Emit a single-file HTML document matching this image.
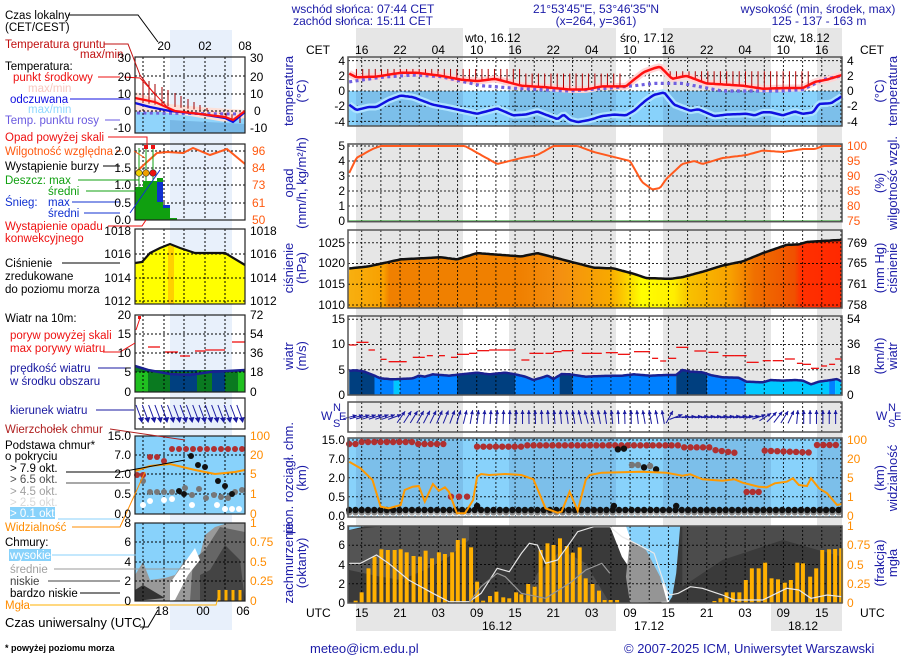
<!DOCTYPE html>
<html><head><meta charset="utf-8"><style>
html,body{margin:0;padding:0;background:#fff;width:910px;height:660px;overflow:hidden}
svg{display:block}
text{font-family:"Liberation Sans",sans-serif}
.b{fill:#1c1ca8}.r{fill:#ee1010}.o{fill:#ff5a10}.or{fill:#ff8c00}
</style></head><body>
<svg id="s" width="910" height="660" viewBox="0 0 910 660" xmlns="http://www.w3.org/2000/svg" font-size="12">
<rect width="910" height="660" fill="#fff"/>
<g id="g"></g>
<!-- header -->
<text x="363" y="13" text-anchor="middle" class="b">wschód słońca: 07:44 CET</text>
<text x="363" y="25" text-anchor="middle" class="b">zachód słońca: 15:11 CET</text>
<text x="596" y="13" text-anchor="middle" class="b">21°53'45"E, 53°46'35"N</text>
<text x="596" y="25" text-anchor="middle" class="b">(x=264,  y=361)</text>
<text x="818" y="13" text-anchor="middle" class="b">wysokość (min, środek, max)</text>
<text x="819" y="25" text-anchor="middle" class="b">125 - 137 - 163 m</text>
<text x="465" y="42">wto, 16.12</text>
<text x="620" y="42">śro, 17.12</text>
<text x="773" y="42">czw, 18.12</text>
<text x="306" y="54">CET</text><text x="860" y="54">CET</text>
<g text-anchor="middle">
<text x="361.7" y="54">16</text><text x="400" y="54">22</text><text x="438.3" y="54">04</text><text x="476.7" y="54">10</text><text x="515" y="54">16</text><text x="553.3" y="54">22</text><text x="591.7" y="54">04</text><text x="630" y="54">10</text><text x="668.3" y="54">16</text><text x="706.7" y="54">22</text><text x="745" y="54">04</text><text x="783.3" y="54">10</text><text x="821.7" y="54">16</text>
<text x="361.7" y="617">15</text><text x="400" y="617">21</text><text x="438.3" y="617">03</text><text x="476.7" y="617">09</text><text x="515" y="617">15</text><text x="553.3" y="617">21</text><text x="591.7" y="617">03</text><text x="630" y="617">09</text><text x="668.3" y="617">15</text><text x="706.7" y="617">21</text><text x="745" y="617">03</text><text x="783.3" y="617">09</text><text x="821.7" y="617">15</text>
<text x="497" y="630">16.12</text><text x="649" y="630">17.12</text><text x="803" y="630">18.12</text>
</g>
<text x="306" y="617">UTC</text><text x="860" y="617">UTC</text>
<!-- left ticks main -->
<g text-anchor="end">
<text x="345" y="65">4</text><text x="345" y="80">2</text><text x="345" y="95">0</text><text x="345" y="110">-2</text><text x="345" y="126">-4</text>
<text x="345" y="150">5</text><text x="345" y="165">4</text><text x="345" y="180">3</text><text x="345" y="195">2</text><text x="345" y="210">1</text><text x="345" y="225">0</text>
<text x="345" y="247">1025</text><text x="345" y="267">1020</text><text x="345" y="288">1015</text><text x="345" y="309">1010</text>
<text x="345" y="323">15</text><text x="345" y="348">10</text><text x="345" y="374">5</text><text x="345" y="399">0</text>
<text x="345" y="444">15.0</text><text x="345" y="463">7.0</text><text x="345" y="482">2.0</text><text x="345" y="501">0.5</text><text x="345" y="520">0.0</text>
<text x="345" y="530">8</text><text x="345" y="549">6</text><text x="345" y="569">4</text><text x="345" y="588">2</text><text x="345" y="607">0</text>
</g>
<!-- right ticks main -->
<g>
<text x="847" y="65">4</text><text x="847" y="80">2</text><text x="847" y="95">0</text><text x="847" y="110">-2</text><text x="847" y="126">-4</text>
<g class="o"><text x="847" y="150">100</text><text x="847" y="165">95</text><text x="847" y="180">90</text><text x="847" y="195">85</text><text x="847" y="210">80</text><text x="847" y="225">75</text></g>
<text x="847" y="247">769</text><text x="847" y="267">765</text><text x="847" y="288">761</text><text x="847" y="309">758</text>
<text x="847" y="323">54</text><text x="847" y="348">36</text><text x="847" y="374">18</text><text x="847" y="399">0</text>
<g class="or"><text x="847" y="444">100</text><text x="847" y="463">20</text><text x="847" y="482">5</text><text x="847" y="501">1</text><text x="847" y="520">0</text>
<text x="847" y="530">1</text><text x="847" y="549">0.75</text><text x="847" y="569">0.5</text><text x="847" y="588">0.25</text><text x="847" y="607">0</text></g>
</g>
<!-- rotated axis titles -->
<g class="b" text-anchor="middle" font-size="13">
<text transform="translate(293,91) rotate(-90)">temperatura</text><text transform="translate(306,91) rotate(-90)">(°C)</text>
<text transform="translate(293,183) rotate(-90)">opad</text><text transform="translate(306,183) rotate(-90)">(mm/h, kg/m²/h)</text>
<text transform="translate(293,268) rotate(-90)">ciśnienie</text><text transform="translate(306,268) rotate(-90)">(hPa)</text>
<text transform="translate(293,356) rotate(-90)">wiatr</text><text transform="translate(306,356) rotate(-90)">(m/s)</text>
<text transform="translate(293,478) rotate(-90)">pion. rozciągł. chm.</text><text transform="translate(306,478) rotate(-90)">(km)</text>
<text transform="translate(293,563) rotate(-90)">zachmurzenie</text><text transform="translate(306,563) rotate(-90)">(oktanty)</text>
<text transform="translate(884,91) rotate(-90)">(°C)</text><text transform="translate(897,91) rotate(-90)">temperatura</text>
<text transform="translate(884,183) rotate(-90)">(%)</text><text transform="translate(897,183) rotate(-90)">wilgotność wzgl.</text>
<text transform="translate(884,268) rotate(-90)">(mm Hg)</text><text transform="translate(897,268) rotate(-90)">ciśnienie</text>
<text transform="translate(884,356) rotate(-90)">(km/h)</text><text transform="translate(897,356) rotate(-90)">wiatr</text>
<text transform="translate(884,478) rotate(-90)">(km)</text><text transform="translate(897,478) rotate(-90)">widzialność</text>
<text transform="translate(884,563) rotate(-90)">(frakcja)</text><text transform="translate(897,563) rotate(-90)">mgła</text>
</g>
<g class="b" font-size="12">
<text x="321" y="420">W</text><text x="333" y="411" font-size="11">N</text><text x="333" y="427" font-size="11">S</text><text x="339" y="420" font-size="11">E</text>
<text x="876" y="420">W</text><text x="888" y="411" font-size="11">N</text><text x="888" y="427" font-size="11">S</text><text x="894" y="420" font-size="11">E</text>
</g>
<!-- footer -->
<text x="310" y="653" class="b" font-size="13">meteo@icm.edu.pl</text>
<text x="624" y="653" class="b" font-size="13">© 2007-2025 ICM, Uniwersytet Warszawski</text>
<text x="5" y="651" font-size="9" font-weight="bold">* powyżej poziomu morza</text>
<!-- left legend -->
<g font-size="11.5">
<text x="5" y="19">Czas lokalny</text><text x="5" y="31">(CET/CEST)</text>
<text x="5" y="48" fill="#c01010">Temperatura gruntu</text><text x="80" y="58" fill="#c01010">max/min</text>
<text x="5" y="70">Temperatura:</text>
<text x="13" y="81" class="r">punkt środkowy</text>
<text x="28" y="92" fill="#f8c8c0">max/min</text>
<text x="10" y="103" fill="#1010e0">odczuwana</text>
<text x="28" y="113" fill="#90d8ff">max/min</text>
<text x="5" y="124" fill="#6a5ae0">Temp. punktu rosy</text>
<text x="5" y="141" class="r">Opad powyżej skali</text>
<text x="5" y="155" class="o">Wilgotność względna</text>
<text x="5" y="170">Wystąpienie burzy</text>
<text x="5" y="184" fill="#10a010">Deszcz: max</text><text x="48" y="195" fill="#10a010">średni</text>
<text x="5" y="206" fill="#1030d0">Śnieg:</text><text x="48" y="206" fill="#1030d0">max</text><text x="48" y="217" fill="#1030d0">średni</text>
<text x="5" y="230" class="r">Wystąpienie opadu</text><text x="5" y="242" class="r">konwekcyjnego</text>
<text x="5" y="267">Ciśnienie</text><text x="5" y="280">zredukowane</text><text x="5" y="293">do poziomu morza</text>
<text x="5" y="322">Wiatr na 10m:</text>
<text x="10" y="339" class="r">poryw powyżej skali</text><text x="10" y="352" class="r">max porywy wiatru</text>
<text x="10" y="372" fill="#1818a0">prędkość wiatru</text><text x="10" y="385" fill="#1818a0">w środku obszaru</text>
<text x="10" y="414" fill="#1818a0">kierunek wiatru</text>
<text x="5" y="433" fill="#b02020">Wierzchołek chmur</text>
<text x="5" y="449">Podstawa chmur*</text><text x="5" y="460">o pokryciu</text>
<text x="10" y="472">&gt; 7.9 okt.</text>
<text x="10" y="483" fill="#505050">&gt; 6.5 okt.</text>
<text x="10" y="495" fill="#a0a0a0">&gt; 4.5 okt.</text>
<text x="10" y="506" fill="#d8d8d8">&gt; 2.5 okt.</text>
<rect x="10" y="507" width="45" height="12" fill="#88d2fb"/><text x="10" y="517" fill="#fff">&gt; 0.1 okt.</text>
<text x="5" y="531" class="or">Widzialność</text>
<text x="5" y="546">Chmury:</text>
<rect x="9" y="549" width="42" height="12" fill="#88d2fb"/><text x="10" y="559" fill="#fff">wysokie</text>
<text x="10" y="573" fill="#a0a0a0">średnie</text>
<text x="10" y="585" fill="#404040">niskie</text>
<text x="10" y="597">bardzo niskie</text>
<text x="5" y="609" class="or">Mgła</text>
</g>
<text x="5" y="627" font-size="13">Czas uniwersalny (UTC)</text>
<g text-anchor="middle">
<text x="164" y="50">20</text><text x="205" y="50">02</text><text x="245" y="50">08</text>
<text x="162" y="615">18</text><text x="203" y="615">00</text><text x="243" y="615">06</text>
</g>
<g text-anchor="end">
<text x="131" y="62">30</text><text x="131" y="81">20</text><text x="131" y="98">10</text><text x="131" y="115">0</text><text x="131" y="132">-10</text>
<text x="131" y="155">2.0</text><text x="131" y="172">1.5</text><text x="131" y="189">1.0</text><text x="131" y="207">0.5</text><text x="131" y="224">0.0</text>
<text x="131" y="235">1018</text><text x="131" y="258">1016</text><text x="131" y="282">1014</text><text x="131" y="305">1012</text>
<text x="131" y="319">20</text><text x="131" y="338">15</text><text x="131" y="357">10</text><text x="131" y="376">5</text><text x="131" y="396">0</text>
<text x="131" y="440">15.0</text><text x="131" y="459">7.0</text><text x="131" y="478">2.0</text><text x="131" y="498">0.5</text><text x="131" y="518">0.0</text>
<text x="131" y="527">8</text><text x="131" y="546">6</text><text x="131" y="566">4</text><text x="131" y="585">2</text><text x="131" y="605">0</text>
</g>
<g>
<text x="250" y="62">30</text><text x="250" y="81">20</text><text x="250" y="98">10</text><text x="254" y="115">0</text><text x="250" y="132">-10</text>
<g class="o"><text x="252" y="155">96</text><text x="252" y="172">84</text><text x="252" y="189">73</text><text x="252" y="207">61</text><text x="252" y="224">50</text></g>
<text x="250" y="235">1018</text><text x="250" y="258">1016</text><text x="250" y="282">1014</text><text x="250" y="305">1012</text>
<text x="250" y="319">72</text><text x="250" y="338">54</text><text x="250" y="357">36</text><text x="250" y="376">18</text><text x="250" y="396">0</text>
<g class="or"><text x="250" y="440">100</text><text x="250" y="459">20</text><text x="250" y="478">5</text><text x="250" y="498">1</text><text x="250" y="518">0</text>
<text x="250" y="527">1</text><text x="250" y="546">0.75</text><text x="250" y="566">0.5</text><text x="250" y="585">0.25</text><text x="250" y="605">0</text></g>
</g>
</svg>
<script>
const NS='http://www.w3.org/2000/svg',G=document.getElementById('g');
function el(t,a,p){const e=document.createElementNS(NS,t);for(const k in a)e.setAttribute(k,a[k]);(p||G).appendChild(e);return e;}
const X=z=>280+z/2.486;
function ip(a,z){if(z<=a[0][0])return a[0][1];for(let i=1;i<a.length;i++){if(z<=a[i][0]){const t=(z-a[i-1][0])/(a[i][0]-a[i-1][0]);return a[i-1][1]+t*(a[i][1]-a[i-1][1]);}}return a[a.length-1][1];}
function pl(pts,a){a.points=pts.map(p=>p[0].toFixed(1)+','+p[1].toFixed(1)).join(' ');a.fill=a.fill||'none';return el('polyline',a);}
function pg(pts,a){a.points=pts.map(p=>p[0].toFixed(1)+','+p[1].toFixed(1)).join(' ');return el('polygon',a);}
const L=348,R=842,W=R-L;
const bands=[[356,463],[509,616],[663,771],[817,842]];
bands.forEach(b=>el('rect',{x:b[0],y:28,width:b[1]-b[0],height:575,fill:'#e6e6e6'}));
el('rect',{x:356,y:603,width:260,height:28,fill:'#e6e6e6'});
el('rect',{x:771,y:603,width:71,height:28,fill:'#e6e6e6'});
el('rect',{x:170,y:30,width:62,height:600,fill:'#e8f0fb'});
function blueBg(y1,y2){el('rect',{x:L,y:y1,width:W,height:y2-y1,fill:'#88d2fb'});bands.forEach(b=>el('rect',{x:b[0],y:y1,width:b[1]-b[0],height:y2-y1,fill:'#7cbfea'}));}
function grid(y1,y2,hs){for(let x=361.7-19.17;x<R;x+=19.17){if(x>L)el('line',{x1:x,y1:y1,x2:x,y2:y2,stroke:'#000','stroke-dasharray':'2,2','stroke-width':1,opacity:.85});}
 hs.forEach(h=>el('line',{x1:L,y1:h,x2:R,y2:h,stroke:'#000','stroke-dasharray':'2,2','stroke-width':1,opacity:.85}));}
function border(y1,y2){el('rect',{x:L,y:y1,width:W,height:y2-y1,fill:'none',stroke:'#555','stroke-width':1.5});}
function sample(arr,f){const p=[];for(let z=172;z<=1397;z+=5)p.push([X(z),f(ip(arr,z))]);return p;}
const yT=t=>91-t*7.6;
blueBg(91,126);
const red=[[172,2.3],[190,1.8],[240,1.9],[300,2.4],[340,2.4],[400,2.0],[450,1.5],[490,1.3],[535,1.6],[600,0.7],[660,0.5],[720,0.2],[760,0.2],[800,0.6],[840,0.6],[860,0.6],[880,1.5],[905,2.5],[930,3.0],[945,3.2],[960,2.4],[975,1.6],[1010,2.0],[1030,1.6],[1060,1.0],[1150,0.7],[1200,0.3],[1260,0.4],[1300,0.4],[1330,1.2],[1360,1.5],[1397,2.1]];
const blu=[[172,-1.8],[190,-2.5],[220,-2.1],[240,-2.1],[270,-1.2],[300,-0.6],[330,-0.8],[350,-1.2],[380,-1.8],[420,-2.2],[490,-3.0],[540,-2.3],[580,-3.2],[610,-3.1],[640,-2.7],[660,-3.1],[690,-3.7],[705,-3.1],[720,-3.8],[740,-4.1],[770,-3.8],[800,-3.3],[830,-3.1],[860,-3.2],[880,-2.6],[910,-1.2],[930,-0.5],[955,-0.2],[980,-1.8],[1020,-2.6],[1040,-2.4],[1080,-3.3],[1110,-3.1],[1160,-3.0],[1180,-3.2],[1200,-2.8],[1220,-2.8],[1250,-3.2],[1280,-2.7],[1300,-3.0],[1325,-2.8],[1340,-1.7],[1370,-1.6],[1397,-0.7]];
const dew=[[172,1.2],[250,1.8],[330,2.1],[400,1.9],[450,1.3],[500,0.7],[600,0.3],[720,0.0],[820,0.4],[880,0.7],[930,1.0],[1000,1.0],[1050,0.5],[1100,0.0],[1250,0.0],[1300,0.2],[1350,1.5],[1397,2.0]];
grid(57,126,[60.6,75.8,91,106.2,121.4]);
pl(sample(red,yT),{stroke:'#ffd4d4','stroke-width':7});
pl(sample(blu,yT),{stroke:'#b0e4ff','stroke-width':7});
for(let z=190;z<1320;z+=15.6){if(z>860&&z<955)continue;const v=ip(red,z);let top=z<600?2.9:(z<860?2.3:2.6);if(v<top)el('line',{x1:X(z),y1:yT(v),x2:X(z),y2:yT(top),stroke:'#b00000','stroke-width':1});}
pl(sample(dew,yT),{stroke:'#7060e0','stroke-width':3.2,'stroke-dasharray':'3,3.4'});
pl(sample(red,yT),{stroke:'#ff1010','stroke-width':2.5});
pl(sample(blu,yT),{stroke:'#1010e0','stroke-width':2.5});
border(57,126);
const yH=h=>221-(h-75)*3;
grid(144,221.7,[146,161,176,191,206]);
el('line',{x1:L,y1:221,x2:R,y2:221,stroke:'#10a010','stroke-width':1});
const hum=[[172,91],[190,96],[230,99],[250,100],[460,100],[500,97],[540,94],[570,95],[600,96],[640,97],[680,100],[740,100],[780,98],[840,96],[870,95],[900,88],[925,85.5],[945,86],[960,89],[1000,94],[1030,95],[1050,94],[1100,96],[1160,97],[1200,98.5],[1250,98],[1300,99],[1330,99],[1350,100],[1397,100]];
pl(sample(hum,yH),{stroke:'#ff5a1e','stroke-width':2});
border(144,221.7);
const yP=p=>305-(p-1010)*4.15;
const defs=el('defs',{});const lg=el('linearGradient',{id:'pg',x1:0,y1:0,x2:1,y2:0},defs);
[[172,'#f8b010'],[260,'#f8a000'],[275,'#f08000'],[600,'#f08000'],[700,'#f49010'],[820,'#f8a800'],[860,'#fcd000'],[900,'#ffff00'],[980,'#ffee00'],[1020,'#f8c000'],[1120,'#f8a000'],[1180,'#f07000'],[1280,'#f05000'],[1295,'#ff3000'],[1397,'#ff2800']].forEach(s=>el('stop',{offset:((s[0]-172)/1225).toFixed(3),'stop-color':s[1]},lg));
const pr=[[172,1018.8],[220,1019.3],[300,1021],[400,1021.5],[440,1021],[490,1022.5],[560,1022],[600,1021.7],[640,1022.5],[700,1021],[780,1019],[830,1018.8],[880,1017.5],[910,1016.5],[970,1016.3],[1000,1016.7],[1050,1018],[1100,1019.5],[1150,1020.5],[1200,1022.5],[1260,1024.5],[1290,1024.6],[1310,1025.2],[1397,1025.7]];
const pp=sample(pr,yP);pg([[L,308]].concat(pp).concat([[R,308]]),{fill:'url(#pg)'});
grid(230,308,[242.7,263.5,284.3,305]);
pl(pp,{stroke:'#111','stroke-width':2.5});
border(230,308);
const ws=[[172,437],[190,436],[210,440],[235,452],[250,460],[280,463],[300,462],[330,460],[345,452],[360,455],[380,448],[420,452],[450,448],[490,443],[520,448],[560,443],[585,448],[610,455],[630,465],[650,458],[665,452],[680,462],[700,447],[720,448],[760,455],[800,453],[850,452],[880,448],[920,452],[960,450],[985,450],[1000,435],[1020,440],[1050,442],[1070,450],[1100,457],[1140,458],[1160,470],[1200,472],[1220,465],[1250,467],[1280,465],[1300,467],[1320,478],[1340,470],[1370,465],[1385,462],[1397,470]];
const yw=v=>225+v/3;
const segs=[[172,235,'#003f7f'],[235,283,'#0080ff'],[283,298,'#00c8ff'],[298,440,'#0080ff'],[440,585,'#003f7f'],[585,695,'#0080ff'],[695,728,'#003f7f'],[728,985,'#0080ff'],[985,1062,'#003f7f'],[1062,1158,'#0080ff'],[1158,1365,'#00c8ff'],[1365,1380,'#0080ff'],[1380,1397,'#00c8ff']];
segs.forEach(s=>{const p=[[X(s[0]),395]];for(let z=s[0];z<=s[1];z+=3)p.push([X(z),yw(ip(ws,z))]);p.push([X(s[1]),yw(ip(ws,s[1]))],[X(s[1]),395]);pg(p,{fill:s[2]});});
grid(316,395,[319.3,344.5,369.7]);
const gu=[[172,190,360],[190,220,352],[220,236,375],[250,265,403],[270,315,410],[330,360,397],[365,380,392],[395,410,392],[425,440,397],[440,470,388],[470,490,385],[490,520,377],[520,540,375],[540,585,375],[600,620,405],[620,655,385],[660,680,385],[680,700,380],[700,730,377],[750,770,385],[770,800,385],[810,840,383],[840,870,388],[880,900,380],[900,920,380],[925,940,400],[945,960,408],[965,985,400],[985,1015,367],[1030,1060,378],[1065,1090,382],[1100,1130,392],[1130,1160,392],[1160,1190,412],[1200,1220,407],[1225,1250,407],[1255,1280,402],[1285,1300,415],[1300,1320,418],[1320,1340,430],[1345,1360,423],[1365,1380,418],[1380,1397,402]];
gu.forEach(g=>el('line',{x1:X(g[0]),y1:yw(g[2]),x2:X(g[1]),y2:yw(g[2]),stroke:'#ee1010','stroke-width':1.3}));
const wl=[];for(let z=172;z<=1397;z+=4)wl.push([X(z),yw(ip(ws,z))]);pl(wl,{stroke:'#1a2090','stroke-width':2.5});
el('line',{x1:L,y1:395,x2:R,y2:395,stroke:'#000','stroke-width':1});
border(316,395);
grid(402,432,[]);
const ang=[[172,15],[290,20],[300,55],[430,70],[500,85],[700,95],[760,105],[830,95],[870,90],[900,100],[960,100],[975,30],[1000,5],[1180,8],[1220,45],[1270,65],[1290,90],[1397,90]];
for(let x=350;x<R-2;x+=6.39){const z=(x-280)*2.486,a=ip(ang,z)*Math.PI/180,dx=Math.cos(a)*7,dy=-Math.sin(a)*7;
 el('line',{x1:x-dx,y1:417-dy,x2:x+dx,y2:417+dy,stroke:'#1a1aa0','stroke-width':1});
 const hx=x+dx,hy=417+dy,ux=Math.cos(a),uy=-Math.sin(a);
 pg([[hx,hy],[hx-ux*4-uy*2,hy-uy*4+ux*2],[hx-ux*4+uy*2,hy-uy*4-ux*2]],{fill:'#1a1aa0'});}
border(402,432);
blueBg(438,517);
grid(438,517,[440,458.7,477.7,496.7]);
const yc=v=>430+v/3;
function dot(z,zy,c){el('circle',{cx:X(z),cy:yc(zy),r:3.2,fill:c});}
for(let z=172;z<=1397;z+=15.6){const g=z>300&&z<500||z>840&&z<1000;dot(z,252,'#fff');dot(z,247,g?'#aaa':'#888');dot(z,240,'#111');}
[490,830,985].forEach(z=>dot(z,228,'#111'));
for(let z=172;z<=410;z+=15.6)dot(z,z>195&&z<330?36:42,'#b03030');
[425,445,465].forEach(z=>dot(z,200,'#b03030'));
for(let z=490;z<=1145;z+=15.6){let y=z<600?50:(z<1000?46:(z<1080?52:60+(z-1080)/6));dot(z,y,'#b03030');}
[1160,1175,1190].forEach(z=>dot(z,186,'#b03030'));
for(let z=1205;z<=1320;z+=15.6)dot(z,62+(z-1205)/20,'#b03030');
for(let z=1335;z<=1397;z+=15.6)dot(z,45,'#b03030');
dot(840,58,'#111');dot(855,56,'#111');dot(875,105,'#777');dot(890,105,'#777');dot(905,112,'#111');dot(920,108,'#777');dot(935,118,'#111');
const vis=[[172,95],[200,115],[230,150],[250,230],[270,235],[300,225],[310,180],[330,170],[345,168],[360,215],[380,162],[395,182],[410,172],[420,185],[440,250],[460,250],[480,210],[490,140],[500,132],[520,135],[560,132],[600,135],[630,148],[660,235],[690,248],[700,245],[720,185],[740,242],[760,150],[770,135],[800,128],[900,125],[960,128],[1000,137],[1020,133],[1050,148],[1100,152],[1130,148],[1150,158],[1190,170],[1210,172],[1230,160],[1260,155],[1275,145],[1290,165],[1310,168],[1320,145],[1340,175],[1360,190],[1385,225],[1397,222]];
pl(vis.map(p=>[X(p[0]),yc(p[1])]),{stroke:'#ff9900','stroke-width':2});
border(438,517);
el('rect',{x:L,y:526,width:W,height:77,fill:'#3a3a3a'});
const C=p=>p.map(q=>[X(q[0]),yc(q[1])]);
pg(C([[172,300],[260,288],[470,288],[470,330],[420,380],[360,420],[300,450],[250,440],[172,420]]),{fill:'#545454'});
pg(C([[1000,288],[1397,288],[1397,380],[1250,330],[1100,390],[1000,470]]),{fill:'#4c4c4c'});
pg(C([[600,520],[640,430],[700,360],[760,400],[800,480],[820,520]]),{fill:'#505050'});
pg(C([[172,288],[215,288],[172,300]]),{fill:'#88d2fb'});
pg(C([[820,288],[995,288],[985,430],[975,500],[965,518],[955,518],[900,430],[870,330]]),{fill:'#88d2fb'});
pg(C([[820,288],[860,288],[890,390],[960,470],[968,518],[950,518],[900,470],[850,380]]),{fill:'#fff'});
pg(C([[870,330],[910,360],[945,440],[962,515],[870,518],[860,440]]),{fill:'#959595'});
grid(526,603,[545.3,564.5,583.8]);
const bars=[[188,512],[203,487],[220,415],[235,380],[252,358],[268,360],[285,360],[300,358],[315,367],[332,378],[348,380],[362,362],[378,385],[395,367],[410,372],[428,367],[442,330],[457,325],[475,352],[490,455],[505,512],[522,498],[538,485],[555,502],[570,505],[587,487],[600,493],[617,462],[633,470],[648,360],[665,340],[680,345],[696,325],[713,348],[728,368],[745,352],[760,445],[777,462],[793,482],[807,510],[822,510],[838,510],[1080,513],[1095,505],[1110,487],[1126,487],[1142,487],[1158,450],[1173,415],[1190,415],[1206,398],[1222,445],[1238,448],[1255,458],[1270,450],[1286,398],[1300,400],[1318,440],[1333,415],[1348,360],[1365,358],[1380,357],[1395,355]];
bars.forEach(b=>{const y=yc(b[1]);el('rect',{x:X(b[0])-2,y:y,width:4,height:603-y,fill:'#ffb000'});});
pl(C([[172,400],[200,400],[240,375],[270,400],[320,450],[380,490],[420,515],[470,515],[500,490],[540,415],[570,425],[600,370],[620,340],[640,345],[660,400],[690,390],[720,340],[740,305],[780,290],[820,290],[850,320],[900,350],[930,370],[960,480],[970,495],[990,490],[1020,470],[1050,475],[1100,495],[1130,510],[1200,510],[1260,475],[1290,480],[1320,505],[1360,495],[1397,500]]),{stroke:'#e8e8e8','stroke-width':1.2});
pl(C([[470,518],[500,470],[540,430],[560,440],[600,490],[660,505],[720,460],[760,420],[800,400],[820,430]]),{stroke:'#999','stroke-width':1.2});
border(526,603);
const mL=135,mR=245;
function mgrid(y1,y2,hs){[143,164,184,205,225].forEach(x=>el('line',{x1:x,y1:y1,x2:x,y2:y2,stroke:'#000','stroke-dasharray':'2,2'}));hs.forEach(h=>el('line',{x1:mL,y1:h,x2:mR,y2:h,stroke:'#000','stroke-dasharray':'2,2'}));}
function mb(y1,y2){el('rect',{x:mL,y:y1,width:mR-mL,height:y2-y1,fill:'none',stroke:'#222','stroke-width':1.2});}
pg([[135,92],[170,104],[200,107],[245,110],[245,133],[135,133]],{fill:'#fde0d8'});
pg([[135,112],[160,112],[190,116],[225,122],[245,118],[245,133],[135,133]],{fill:'#90d4fb'});
pg([[170,120],[245,124],[245,133],[170,133]],{fill:'#78b8e6'});
mgrid(57,133,[76,94,111]);
[143,149,155,162,168,175,181,188,194,200,207,213,220,226,232,240].forEach((x,i)=>el('line',{x1:x,y1:103+i*0.8,x2:x,y2:78+i*3,stroke:'#a00000'}));
pl([[137,113],[245,114]],{stroke:'#7060e0','stroke-width':3,'stroke-dasharray':'3,3.4'});
pl([[135,103],[150,107],[170,111],[200,114],[225,118],[233,122],[245,112]],{stroke:'#1010e0','stroke-width':2.2});
pl([[135,98],[155,102],[175,111],[200,114],[225,117],[233,120],[245,111]],{stroke:'#ff1010','stroke-width':2.2});
mb(57,133);
mgrid(144,220,[151,168,185,203]);
el('rect',{x:135,y:187,width:12,height:33,fill:'#10a010'});el('rect',{x:143,y:181,width:14,height:39,fill:'#10a010'});el('rect',{x:157,y:178,width:6,height:42,fill:'#10a010'});el('rect',{x:163,y:207,width:7,height:13,fill:'#10a010'});el('rect',{x:170,y:218,width:7,height:2,fill:'#10a010'});
el('rect',{x:157,y:182,width:6,height:20,fill:'#1030d0'});el('rect',{x:163,y:205,width:7,height:3,fill:'#1030d0'});
pl([[135,173],[147,162],[157,153],[167,152],[183,153],[193,148],[210,155],[227,149],[245,164]],{stroke:'#ff5a1e','stroke-width':2});
[[139,'#f0d000'],[146,'#f0a000'],[153,'#ee1010']].forEach(c=>{el('line',{x1:c[0],y1:148,x2:c[0],y2:187,stroke:'#10a010'});el('circle',{cx:c[0],cy:173,r:3.3,fill:c[1],stroke:'#333','stroke-width':.6});});
el('rect',{x:144,y:145,width:4,height:4,fill:'#ee1010'});el('rect',{x:151,y:145,width:4,height:4,fill:'#ee1010'});
mb(144,220);
pg([[135,263],[142,262],[150,253],[160,248],[170,244],[180,248],[195,253],[225,253],[245,265],[245,304],[135,304]],{fill:'#ffff00'});
el('rect',{x:168,y:246,width:6,height:58,fill:'#ffd000'});
mgrid(229,304,[254,278,301]);
pl([[135,263],[142,262],[150,253],[160,248],[170,244],[180,248],[195,253],[225,253],[245,265]],{stroke:'#111','stroke-width':2.2});
mb(229,304);
[[135,148,'#20c020'],[148,170,'#0a7a20'],[170,197,'#004080'],[197,212,'#0a7a20'],[212,225,'#004080'],[225,238,'#0a7a20'],[238,245,'#20c020']].forEach(s=>el('rect',{x:s[0],y:370,width:s[1]-s[0],height:22,fill:s[2]}));
pg([[135,366],[148,370],[170,374],[245,370],[245,372],[135,372]],{fill:'#0a7a20'});
mgrid(315,392,[334,353,372]);
pl([[135,366],[148,370],[170,374],[190,375],[210,372],[245,370]],{stroke:'#1a2090','stroke-width':2.5});
[[148,160,347],[165,178,352],[180,190,356],[195,205,351],[205,225,350],[232,245,342]].forEach(g=>el('line',{x1:g[0],y1:g[2],x2:g[1],y2:g[2],stroke:'#ee1010','stroke-width':1.3}));
el('line',{x1:136,y1:330,x2:140,y2:318,stroke:'#ee1010'});el('rect',{x:138,y:316,width:3,height:3,fill:'#ee1010'});
mb(315,392);
mgrid(398,429,[]);
for(let x=139;x<244;x+=6.3){el('line',{x1:x-3,y1:405,x2:x+3,y2:421,stroke:'#1a1aa0'});pg([[x+3,423],[x-1,418],[x+5,417]],{fill:'#1a1aa0'});}
mb(398,429);
el('rect',{x:mL,y:436,width:110,height:78,fill:'#88d2fb'});
mgrid(436,514,[455,474,494]);
[[137,475],[143,475],[150,457],[157,457],[164,461],[172,449],[179,449],[186,449],[193,449],[200,449],[207,449],[214,449],[221,449],[228,449],[235,449],[242,449]].forEach(d=>el('circle',{cx:d[0],cy:d[1],r:3,fill:'#b03030'}));
[[143,481],[150,492],[157,492],[164,492],[172,492],[185,488],[192,495],[199,489],[206,498],[214,495],[221,497],[228,498],[235,492],[242,490]].forEach(d=>el('circle',{cx:d[0],cy:d[1],r:3,fill:'#777'}));
[[191,456],[198,465],[205,467],[218,481],[225,486],[232,494],[184,494],[179,491]].forEach(d=>el('circle',{cx:d[0],cy:d[1],r:3,fill:'#111'}));
[[150,501],[164,500],[172,499],[192,505],[217,505],[225,509],[232,509],[239,509],[143,505]].forEach(d=>el('circle',{cx:d[0],cy:d[1],r:3,fill:'#fff'}));
pl([[135,471],[150,466],[170,464],[195,470],[215,474],[235,472],[245,470]],{stroke:'#ff9900','stroke-width':2});
mb(436,514);
el('rect',{x:mL,y:523,width:110,height:78,fill:'#88d2fb'});
pg([[135,575],[143,562],[150,580],[165,578],[175,575],[185,560],[200,555],[205,535],[215,527],[228,523],[245,523],[245,601],[135,601]],{fill:'#999'});
pg([[190,601],[193,560],[205,550],[220,527],[245,532],[245,601]],{fill:'#666'});
pg([[135,590],[143,585],[165,598],[135,601]],{fill:'#333'});
pg([[200,575],[210,570],[225,545],[240,560],[245,601],[200,601]],{fill:'#444'});
pg([[170,583],[185,562],[195,548],[200,560],[188,575],[175,600],[170,601]],{fill:'#fff'});
mgrid(523,601,[542,562,581]);
[219,226,233,240].forEach(x=>el('rect',{x:x-1.5,y:590,width:3,height:11,fill:'#ffb000'}));
mb(523,601);
const ld=(pts,c)=>pl(pts,{stroke:c,'stroke-width':1});
ld([[68,15],[138,15],[158,42]],'#000');
ld([[104,44],[128,44],[140,75],[155,95]],'#c01010');
ld([[98,77],[120,77]],'#ee1010');ld([[124,77],[140,78],[170,110]],'#ee1010');
ld([[70,99],[130,99]],'#1010e0');
ld([[105,120],[120,120]],'#6a5ae0');
ld([[108,137],[147,137],[147,145]],'#ee1010');
ld([[116,151],[122,151]],'#ff5a10');ld([[134,151],[145,158]],'#ff5a10');
ld([[103,166],[120,166]],'#000');
ld([[78,180],[139,180]],'#10a010');ld([[86,191],[143,191]],'#10a010');
ld([[72,202],[120,202]],'#1030d0');ld([[84,213],[120,213]],'#1030d0');ld([[130,213],[160,170]],'#1030d0');
ld([[108,226],[142,226],[146,220]],'#ee1010');
ld([[62,263],[120,263]],'#000');
ld([[103,352],[120,352],[135,343]],'#ee1010');
ld([[98,368],[131,368]],'#1818a0');
ld([[96,410],[134,410]],'#1818a0');
ld([[110,429],[185,440]],'#b02020');
ld([[66,472],[120,472],[185,460]],'#000');
ld([[66,483],[130,483]],'#505050');
ld([[58,519],[120,519]],'#88d2fb');
ld([[72,527],[120,527],[145,472]],'#ff8c00');
ld([[52,555],[185,555]],'#88d2fb');
ld([[54,569],[190,569]],'#999');
ld([[48,581],[120,581]],'#404040');
ld([[80,593],[120,593]],'#000');
ld([[30,605],[216,605],[218,598]],'#ffb000');
ld([[140,627],[148,627],[158,610]],'#000');
</script>
</body></html>
